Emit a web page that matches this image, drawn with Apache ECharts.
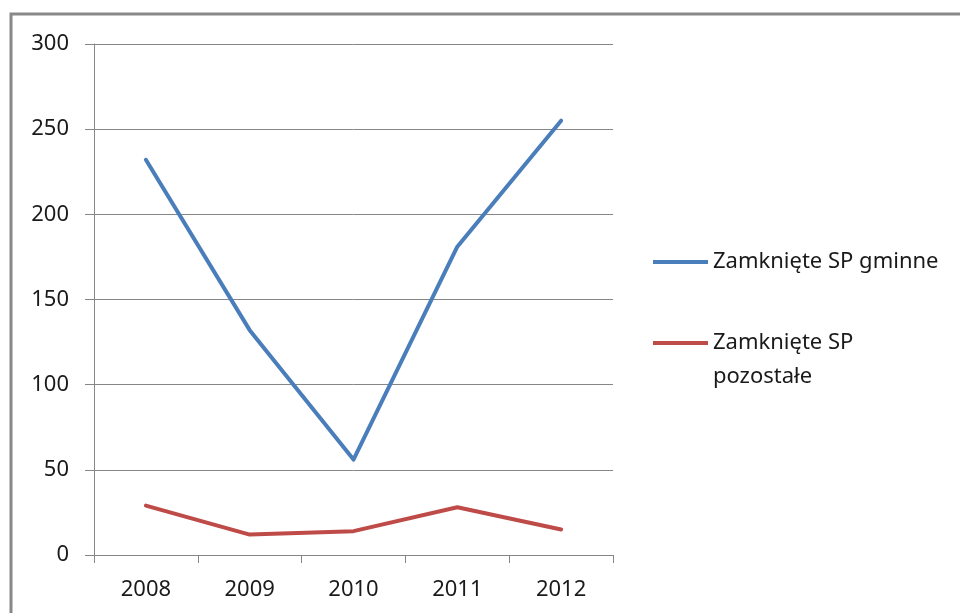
<!DOCTYPE html>
<html>
<head>
<meta charset="utf-8">
<script src="https://cdn.jsdelivr.net/npm/echarts@6/dist/echarts.min.js"></script>
<style>
  html, body { margin: 0; padding: 0; background: #fff; }
  #chart { width: 960px; height: 613px; }
</style>
</head>
<body>
<div id="chart"></div>
<script>
var years = ['2008', '2009', '2010', '2011', '2012'];
var gminne = [232, 132, 56, 181, 255];
var pozostale = [29, 12, 14, 28, 15];
var nameGminne = 'Zamknięte SP gminne';
var namePozostale = 'Zamknięte SP pozostałe';

var font = 'Noto Sans';
var myChart = echarts.init(document.getElementById('chart'));
var option = {
  backgroundColor: '#fff',
  animation: false,
  graphic: [{
    type: 'rect',
    shape: { x: 11, y: 14, width: 1000, height: 700 },
    style: { fill: 'none', stroke: '#888', lineWidth: 3 },
    silent: true
  }],
  grid: { left: 94, right: 347, top: 44, bottom: 58 },
  legend: [{
    data: [nameGminne],
    left: 653, top: 245, padding: 0,
    itemWidth: 55, itemHeight: 4, itemGap: 0,
    icon: 'rect',
    textStyle: { fontFamily: font, fontSize: 22, lineHeight: 34, color: '#1a1a1a' }
  }, {
    data: [namePozostale],
    left: 653, top: 292, padding: 0,
    itemWidth: 55, itemHeight: 4, itemGap: 0,
    icon: 'rect',
    // pusta pierwsza linia, zeby ikona stala przy pierwszej linii tekstu
    formatter: function (n) { return '\n' + n.replace(' SP ', ' SP\n'); },
    textStyle: { fontFamily: font, fontSize: 22, lineHeight: 34, color: '#1a1a1a' }
  }],
  xAxis: {
    type: 'category',
    data: years,
    boundaryGap: true,
    axisLine: { lineStyle: { color: '#868686', width: 1 } },
    axisTick: { show: true, length: 8, lineStyle: { color: '#868686' } },
    axisLabel: { fontFamily: font, fontSize: 22, color: '#1a1a1a', margin: 24 },
    splitLine: { show: false }
  },
  yAxis: {
    type: 'value',
    min: 0, max: 300, interval: 50,
    axisLine: { show: true, lineStyle: { color: '#868686', width: 1 } },
    axisTick: { show: true, length: 9, lineStyle: { color: '#868686' } },
    axisLabel: { fontFamily: font, fontSize: 22, color: '#1a1a1a', margin: 25 },
    splitLine: { show: true, lineStyle: { color: '#868686', width: 1 } }
  },
  series: [{
    name: nameGminne,
    type: 'line',
    data: gminne,
    symbol: 'none',
    color: '#4a7ebb',
    lineStyle: { width: 4, cap: 'round', join: 'round' }
  }, {
    name: namePozostale,
    type: 'line',
    data: pozostale,
    symbol: 'none',
    color: '#be4b48',
    lineStyle: { width: 4, cap: 'round', join: 'round' }
  }]
};
myChart.setOption(option);
</script>
</body>
</html>
